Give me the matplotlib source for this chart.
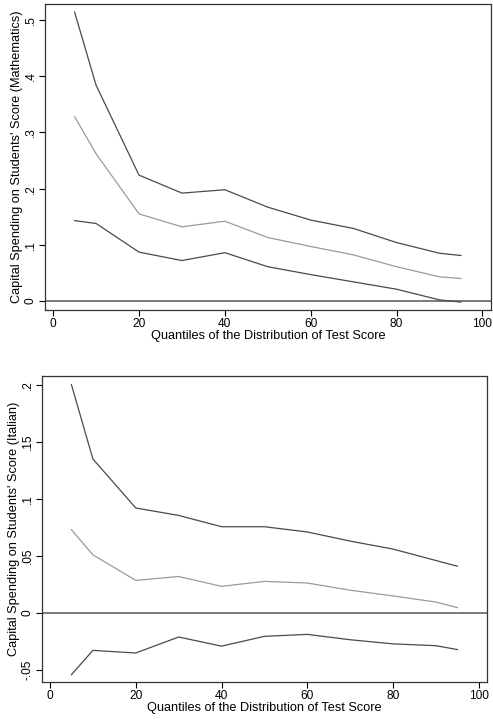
import matplotlib
matplotlib.use("Agg")
import matplotlib.pyplot as plt

quantiles = [5, 10, 20, 30, 40, 50, 60, 70, 80, 90, 95]

math_upper = [0.514, 0.384, 0.224, 0.192, 0.198, 0.167, 0.144, 0.129, 0.104, 0.085, 0.081]
math_coef = [0.328, 0.262, 0.155, 0.132, 0.142, 0.113, 0.097, 0.082, 0.061, 0.043, 0.040]
math_lower = [0.143, 0.138, 0.087, 0.072, 0.086, 0.061, 0.047, 0.034, 0.021, 0.002, -0.002]

ital_upper = [0.200, 0.135, 0.092, 0.0855, 0.0756, 0.0756, 0.071, 0.063, 0.056, 0.046, 0.041]
ital_coef = [0.073, 0.051, 0.0286, 0.032, 0.0234, 0.0277, 0.0263, 0.020, 0.015, 0.0096, 0.0047]
ital_lower = [-0.054, -0.0327, -0.035, -0.021, -0.029, -0.0204, -0.0187, -0.0234, -0.027, -0.0286, -0.032]

math_yticks = [0, 0.1, 0.2, 0.3, 0.4, 0.5]
math_ylabels = ["0", ".1", ".2", ".3", ".4", ".5"]
ital_yticks = [-0.05, 0, 0.05, 0.1, 0.15, 0.2]
ital_ylabels = ["-.05", "0", ".05", ".1", ".15", ".2"]
xticks = [0, 20, 40, 60, 80, 100]

plt.rcParams['font.family'] = ['Liberation Sans', 'DejaVu Sans']

fig = plt.figure(figsize=(4.93, 7.19), dpi=100)
W, H = 493, 719

def make_ax(l, t, r, b):
    return fig.add_axes([l / W, 1 - b / H, (r - l) / W, (b - t) / H])

ax1 = make_ax(45, 4, 491, 310)
ax2 = make_ax(42, 376, 487, 682)

dark = "#4a4a4a"
light = "#9a9a9a"
fs_tick = 8.6
fs_label = 9.2

def style(ax, upper, coef, lower, yticks, ylabels, ylim, xlim, ylabel):
    ax.axhline(0, color="#7a7a7a", lw=1.4, zorder=1)
    ax.plot(quantiles, upper, color=dark, lw=0.9)
    ax.plot(quantiles, coef, color=light, lw=0.9)
    ax.plot(quantiles, lower, color=dark, lw=0.9)
    ax.set_xlim(*xlim)
    ax.set_ylim(*ylim)
    ax.set_xticks(xticks)
    ax.set_xticklabels([str(v) for v in xticks], fontsize=fs_tick)
    ax.set_yticks(yticks)
    ax.set_yticklabels(ylabels, fontsize=fs_tick, rotation=90, va="center")
    ax.tick_params(axis="both", direction="out", length=4, width=0.8, pad=2, colors="black")
    for s in ax.spines.values():
        s.set_color("#333333")
        s.set_linewidth(0.9)
    ax.set_xlabel("Quantiles of the Distribution of Test Score", fontsize=fs_label, labelpad=0)
    ax.set_ylabel(ylabel, fontsize=fs_label, labelpad=1)

style(ax1, math_upper, math_coef, math_lower, math_yticks, math_ylabels,
      (-0.016, 0.5285), (-1.9, 102.0),
      "Capital Spending on Students' Score (Mathematics)")
style(ax2, ital_upper, ital_coef, ital_lower, ital_yticks, ital_ylabels,
      (-0.0604, 0.2076), (-1.86, 101.9),
      "Capital Spending on Students' Score (Italian)")

fig.savefig("out.png", dpi=100)
